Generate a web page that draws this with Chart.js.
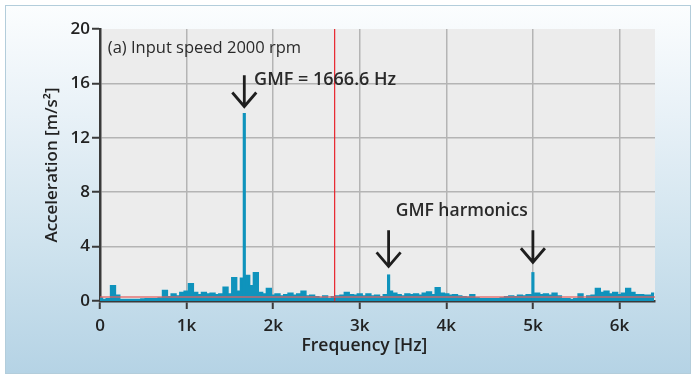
<!DOCTYPE html>
<html>
<head>
<meta charset="utf-8">
<script src="https://cdn.jsdelivr.net/npm/chart.js@4.4.1/dist/chart.umd.min.js"></script>
<style>
  html, body { margin: 0; padding: 0; background: #fff; }
  #panel {
    position: absolute; left: 5px; top: 5px; width: 684px; height: 367px;
    border: 1px solid #b3cddb;
    background: linear-gradient(to bottom, #fbfdfe 0%, #e8f1f7 30%, #cfe3ee 65%, #b5d3e5 100%);
  }
  #wrap { position: absolute; left: 0; top: 0; width: 693px; height: 383px; }
</style>
</head>
<body>
<div id="panel"></div>
<div id="wrap"><canvas id="chart" width="693" height="383"></canvas></div>
<script>
// spectrum, one value per 50 Hz bin (0 .. 6400 Hz), m/s²
const BIN_HZ = 50;
const accel = [
  0.2, 0.1, 0.15, 1.1, 0.4, 0.1, 0.1, 0.1, 0.1, 0.1,
  0.12, 0.15, 0.15, 0.15, 0.2, 0.75, 0.3, 0.5, 0.35, 0.6,
  0.7, 1.25, 0.6, 0.45, 0.6, 0.5, 0.55, 0.45, 0.5, 1.0,
  0.5, 1.7, 0.7, 1.65, 1.85, 1.1, 2.05, 0.6, 0.5, 0.9,
  0.4, 0.5, 0.35, 0.45, 0.55, 0.4, 0.5, 0.7, 0.35, 0.4,
  0.3, 0.2, 0.35, 0.15, 0.3, 0.35, 0.4, 0.6, 0.45, 0.4,
  0.5, 0.35, 0.5, 0.35, 0.4, 0.3, 0.45, 0.7, 0.55, 0.45,
  0.35, 0.5, 0.45, 0.5, 0.4, 0.55, 0.65, 0.45, 0.95, 0.55,
  0.5, 0.4, 0.45, 0.35, 0.3, 0.25, 0.45, 0.2, 0.15, 0.15,
  0.15, 0.15, 0.15, 0.2, 0.3, 0.35, 0.3, 0.4, 0.35, 0.45,
  0.4, 0.55, 0.45, 0.5, 0.4, 0.55, 0.35, 0.15, 0.15, 0.1,
  0.15, 0.5, 0.15, 0.35, 0.4, 0.9, 0.6, 0.7, 0.5, 0.6,
  0.45, 0.55, 0.9, 0.6, 0.45, 0.45, 0.4, 0.4, 0.55
];

// GMF and its harmonics
const peakFreq = [1666.6, 3333.2, 4999.8];
const peakAccel = [13.8, 1.93, 2.1];

// red reference lines
const refLevelFreq = [0, 6410];
const refLevelAccel = [0.3, 0.3];
const markerFreq = [2710, 2710];
const markerAccel = [0, 20];

// arrows: start and tip heights
const arrowFreq = [1666.6, 3333.2, 4999.8];
const arrowFrom = [16.6, 5.2, 5.2];
const arrowTo = [14.3, 2.55, 2.85];

const xTicks = [0, 1000, 2000, 3000, 4000, 5000, 6000];
const yTicks = [0, 4, 8, 12, 16, 20];

const BLUE = "#0f93bc";
const AXIS = "#3a3a3a";
const GRID = "#b4b4b4";

const plotDecor = {
  id: "plotDecor",
  beforeDraw(chart) {
    const {ctx, chartArea: a} = chart;
    ctx.save();
    ctx.fillStyle = "#ececec";
    ctx.fillRect(a.left, a.top, a.right - a.left, a.bottom - a.top);
    ctx.restore();
  },
  afterDatasetsDraw(chart) {
    const {ctx, scales: {x, y}} = chart;
    ctx.save();
    ctx.strokeStyle = "#1e1e1e";
    ctx.lineWidth = 2.8;
    ctx.lineJoin = "miter";
    arrowFreq.forEach((f, i) => {
      const px = x.getPixelForValue(f);
      const y0 = y.getPixelForValue(arrowFrom[i]);
      const y1 = y.getPixelForValue(arrowTo[i]);
      ctx.beginPath();
      ctx.moveTo(px, y0);
      ctx.lineTo(px, y1);
      ctx.moveTo(px - 12, y1 - 14);
      ctx.lineTo(px, y1);
      ctx.lineTo(px + 12, y1 - 14);
      ctx.stroke();
    });
    ctx.fillStyle = "#2a2a2a";
    ctx.textBaseline = "alphabetic";
    ctx.textAlign = "left";
    ctx.font = "16.5px 'Open Sans'";
    ctx.fillText("(a) Input speed 2000 rpm", x.getPixelForValue(90), y.getPixelForValue(18.2));
    ctx.font = "600 18px 'Open Sans'";
    ctx.fillText("GMF = 1666.6 Hz", x.getPixelForValue(1780), y.getPixelForValue(15.85));
    ctx.font = "600 17.5px 'Open Sans'";
    ctx.fillText("GMF harmonics", x.getPixelForValue(3415), y.getPixelForValue(6.25));
    ctx.restore();
  }
};

new Chart(document.getElementById("chart"), {
  type: "line",
  data: {
    datasets: [
      {
        label: "GMF peaks",
        type: "bar",
        data: peakFreq.map((f, i) => ({x: f, y: peakAccel[i]})),
        backgroundColor: BLUE,
        barThickness: 2.5,
        order: 1
      },
      {
        label: "spectrum",
        data: accel.map((v, i) => ({x: i * BIN_HZ, y: v})),
        borderColor: BLUE,
        backgroundColor: BLUE,
        fill: "origin",
        borderWidth: 2,
        stepped: "middle",
        pointRadius: 0,
        order: 2
      },
      {
        label: "level",
        data: refLevelFreq.map((f, i) => ({x: f, y: refLevelAccel[i]})),
        borderColor: "rgba(226, 96, 96, 0.85)",
        borderWidth: 1.5,
        pointRadius: 0,
        order: 0
      },
      {
        label: "marker",
        data: markerFreq.map((f, i) => ({x: f, y: markerAccel[i]})),
        borderColor: "#e8242c",
        borderWidth: 1.2,
        pointRadius: 0,
        order: 0
      }
    ]
  },
  options: {
    responsive: false,
    animation: false,
    events: [],
    layout: { padding: { left: 0, top: 29, right: 38, bottom: 0 } },
    plugins: { legend: { display: false }, tooltip: { enabled: false } },
    scales: {
      x: {
        type: "linear",
        min: 0,
        max: 6410,
        offset: false,
        afterFit: s => { s.height = 82; },
        afterBuildTicks: s => { s.ticks = xTicks.map(v => ({value: v})); },
        border: { color: AXIS, width: 2.5 },
        grid: {
          offset: false,
          color: c => (c.tick && c.tick.value === 0 ? "rgba(0,0,0,0)" : GRID),
          lineWidth: 1.5,
          tickColor: AXIS,
          tickWidth: 2,
          tickLength: 8
        },
        ticks: {
          padding: 7,
          color: "#222",
          font: { family: "'Open Sans'", size: 17, weight: "600" },
          maxRotation: 0,
          callback: v => (v === 0 ? "0" : v / 1000 + "k")
        },
        title: {
          display: true,
          text: "Frequency [Hz]\u2003\u2002",
          color: "#222",
          font: { family: "'Open Sans'", size: 17.5, weight: "600" },
          padding: { top: 0, bottom: 26 }
        }
      },
      y: {
        min: 0,
        max: 20,
        afterFit: s => { s.width = 100; },
        afterBuildTicks: s => { s.ticks = yTicks.map(v => ({value: v})); },
        border: { color: AXIS, width: 2.5 },
        grid: {
          color: c => (c.tick && (c.tick.value === 0 || c.tick.value === 20) ? "rgba(0,0,0,0)" : GRID),
          lineWidth: 1.5,
          tickColor: AXIS,
          tickWidth: 2,
          tickLength: 8
        },
        ticks: {
          padding: 2,
          color: "#222",
          font: { family: "'Open Sans'", size: 17, weight: "600" }
        },
        title: {
          display: true,
          text: "Acceleration [m/s²]",
          color: "#222",
          font: { family: "'Open Sans'", size: 17, weight: "600" },
          padding: { top: 42, bottom: 0 }
        }
      }
    }
  },
  plugins: [plotDecor]
});
</script>
</body>
</html>
